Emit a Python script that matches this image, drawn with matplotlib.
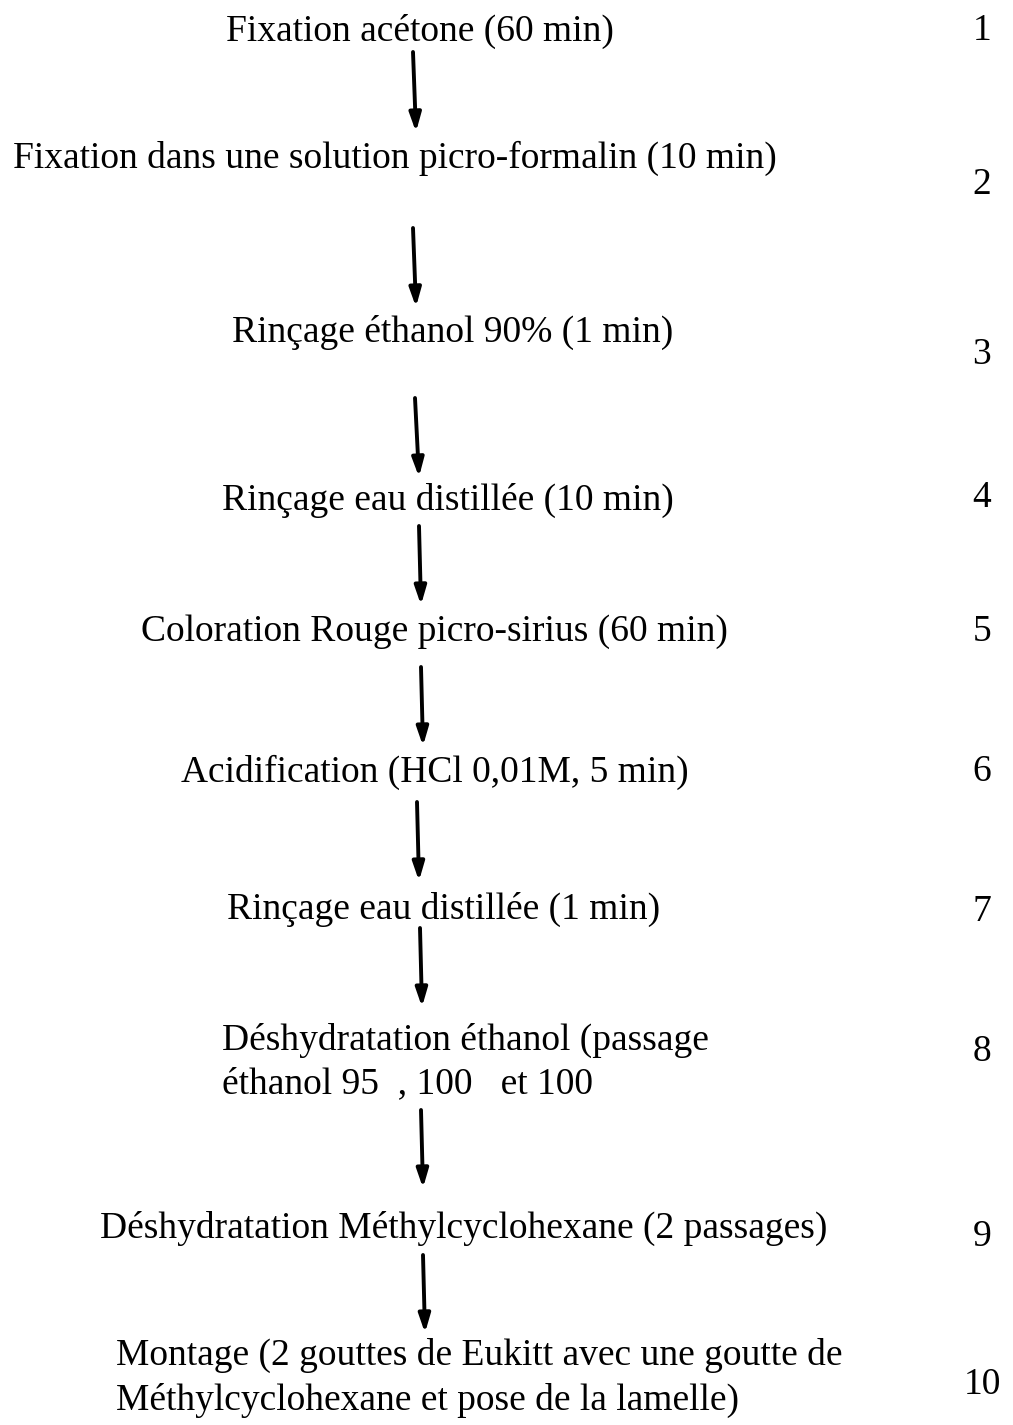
import matplotlib
matplotlib.use("Agg")
import matplotlib.pyplot as plt

# step texts (pixel coordinates, y downwards)
step_labels = [
    "Fixation acétone (60 min)",
    "Fixation dans une solution picro-formalin (10 min)",
    "Rinçage éthanol 90% (1 min)",
    "Rinçage eau distillée (10 min)",
    "Coloration Rouge picro-sirius (60 min)",
    "Acidification (HCl 0,01M, 5 min)",
    "Rinçage eau distillée (1 min)",
    "Déshydratation éthanol (passage\néthanol 95  , 100   et 100",
    "Déshydratation Méthylcyclohexane (2 passages)",
    "Montage (2 gouttes de Eukitt avec une goutte de\nMéthylcyclohexane et pose de la lamelle)",
]
step_x = [420, 395, 453, 448, 434, 435, 444, 222, 464, 116]
step_y = [31, 158, 332, 500, 632, 772, 909, 1062, 1228, 1378]
step_ha = ["center"] * 7 + ["left", "center", "left"]

step_numbers = ["1", "2", "3", "4", "5", "6", "7", "8", "9", "10"]
number_y = [31, 185, 355, 498, 632, 772, 912, 1052, 1237, 1385]

# arrows: (x0, y0) -> (x1, y1)
arrow_start = [(413, 52), (413, 228), (415, 398), (419, 526), (421, 667),
               (417, 802), (420, 928), (421, 1110), (423, 1255)]
arrow_end = [(416, 132), (416, 307), (419, 477), (421, 605), (423, 746),
             (419, 881), (422, 1007), (423, 1188), (425, 1333)]

W, H = 1013, 1425
fig = plt.figure(figsize=(W / 100, H / 100), dpi=100)
ax = fig.add_axes([0, 0, 1, 1])
ax.set_xlim(0, W)
ax.set_ylim(H, 0)
ax.axis("off")

font = dict(family="Liberation Serif", fontsize=27, color="black")

for lab, x, y, ha in zip(step_labels, step_x, step_y, step_ha):
    ax.text(x, y, lab, ha=ha, va="center", linespacing=1.35, **font)

for num, y in zip(step_numbers, number_y):
    ax.text(982, y, num, ha="center", va="center", **font)

for (x0, y0), (x1, y1) in zip(arrow_start, arrow_end):
    ax.annotate("", xy=(x1, y1), xytext=(x0, y0),
                arrowprops=dict(arrowstyle="-|>,head_length=1.1,head_width=0.35",
                                lw=2.8, color="black", shrinkA=0, shrinkB=0))

fig.savefig("out.png", dpi=100, facecolor="white")
